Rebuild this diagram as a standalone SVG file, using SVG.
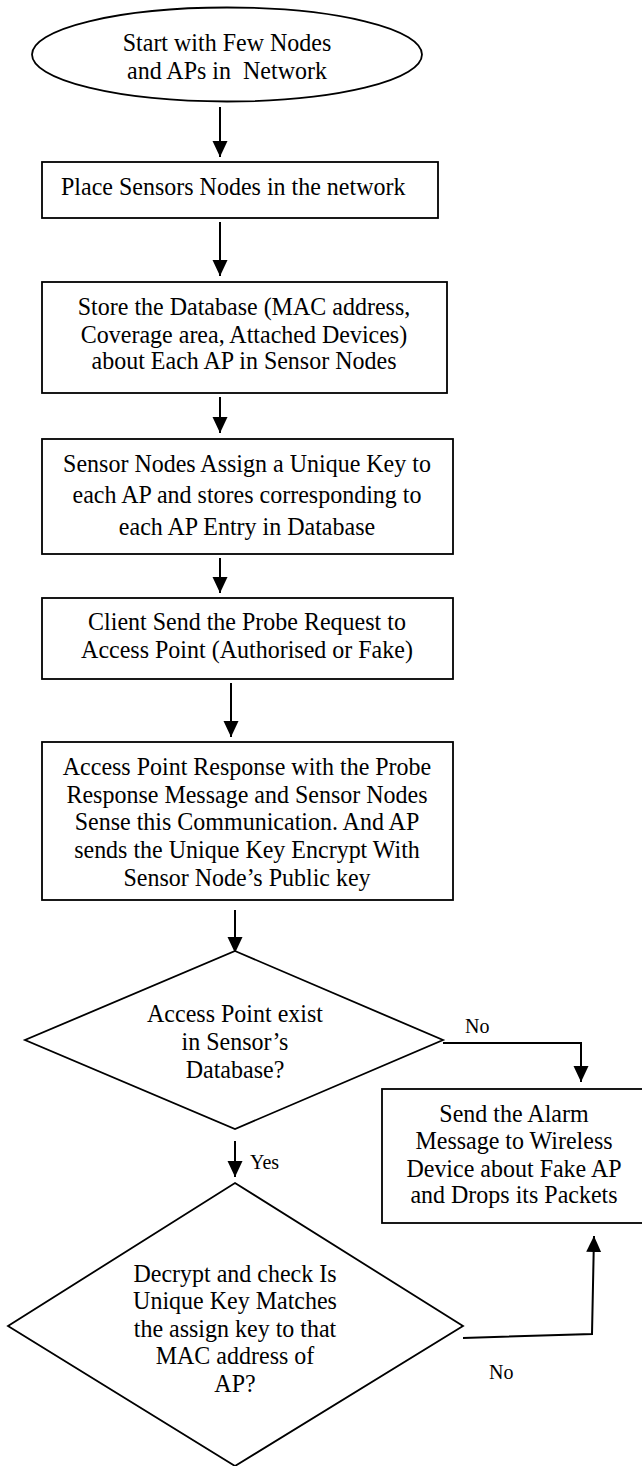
<svg xmlns="http://www.w3.org/2000/svg" width="642" height="1466" viewBox="0 0 642 1466">
<style>
.n{fill:#fff;stroke:#000;stroke-width:1.8}
.t{font-family:"Liberation Serif","Times New Roman",serif;font-size:24px;fill:#000;text-anchor:middle;white-space:pre}
.l{font-family:"Liberation Serif","Times New Roman",serif;font-size:20px;fill:#000;text-anchor:start}
.c{fill:none;stroke:#000;stroke-width:2;marker-end:url(#ah)}
</style>
<defs>
<marker id="ah" markerUnits="userSpaceOnUse" markerWidth="17" markerHeight="16" refX="16" refY="7.5" orient="auto">
<path d="M0,0 L16,7.5 L0,15 z" fill="#000"/>
</marker>
</defs>
<rect width="642" height="1466" fill="#fff"/>
<g id="connectors">
<line class="c" x1="220" y1="107" x2="220" y2="157"/>
<line class="c" x1="220" y1="222" x2="220" y2="276"/>
<line class="c" x1="220" y1="397" x2="220" y2="433"/>
<line class="c" x1="220" y1="558" x2="220" y2="593"/>
<line class="c" x1="231" y1="683" x2="231" y2="737"/>
<line class="c" x1="235" y1="910" x2="235" y2="953"/>
<polyline class="c" points="443,1043 581,1043 581,1082"/>
<line class="c" x1="235" y1="1141" x2="235" y2="1177"/>
<polyline class="c" points="463,1338 592,1334 594,1236"/>
<text class="l" transform="translate(465,1033) scale(1,1.08)">No</text>
<text class="l" transform="translate(250,1169) scale(1,1.08)">Yes</text>
<text class="l" transform="translate(489,1379) scale(1,1.08)">No</text>
</g>
<g id="start">
<ellipse class="n" cx="227" cy="54.5" rx="195" ry="47"/>
<text class="t" transform="translate(227,51) scale(1,1.08)">Start with Few Nodes</text>
<text class="t" transform="translate(227,79) scale(1,1.08)">and APs in  Network</text>
</g>
<g id="place">
<rect class="n" x="42" y="162" width="396" height="56"/>
<text class="t" transform="translate(61,195) scale(1,1.08)" style="text-anchor:start">Place Sensors Nodes in the network</text>
</g>
<g id="store">
<rect class="n" x="42" y="282" width="405" height="111"/>
<text class="t" transform="translate(244,315) scale(1,1.08)">Store the Database (MAC address,</text>
<text class="t" transform="translate(244,343) scale(1,1.08)">Coverage area, Attached Devices)</text>
<text class="t" transform="translate(244,369) scale(1,1.08)">about Each AP in Sensor Nodes</text>
</g>
<g id="assign">
<rect class="n" x="42" y="439" width="411" height="115"/>
<text class="t" transform="translate(247,472) scale(1,1.08)">Sensor Nodes Assign a Unique Key to</text>
<text class="t" transform="translate(247,503) scale(1,1.08)">each AP and stores corresponding to</text>
<text class="t" transform="translate(247,535) scale(1,1.08)">each AP Entry in Database</text>
</g>
<g id="probe">
<rect class="n" x="42" y="598" width="411" height="81"/>
<text class="t" transform="translate(247,630) scale(1,1.08)">Client Send the Probe Request to</text>
<text class="t" transform="translate(247,658) scale(1,1.08)">Access Point (Authorised or Fake)</text>
</g>
<g id="response">
<rect class="n" x="42" y="742" width="411" height="158"/>
<text class="t" transform="translate(247,775) scale(1,1.08)">Access Point Response with the Probe</text>
<text class="t" transform="translate(247,803) scale(1,1.08)">Response Message and Sensor Nodes</text>
<text class="t" transform="translate(247,830) scale(1,1.08)">Sense this Communication. And AP</text>
<text class="t" transform="translate(247,858) scale(1,1.08)">sends the Unique Key Encrypt With</text>
<text class="t" transform="translate(247,886) scale(1,1.08)">Sensor Node’s Public key</text>
</g>
<g id="exist">
<polygon class="n" points="235,951 443,1040 235,1129 25,1040"/>
<text class="t" transform="translate(235,1022) scale(1,1.08)">Access Point exist</text>
<text class="t" transform="translate(235,1050) scale(1,1.08)">in Sensor’s</text>
<text class="t" transform="translate(235,1078) scale(1,1.08)">Database?</text>
</g>
<g id="alarm">
<rect class="n" x="382" y="1089" width="270" height="134"/>
<text class="t" transform="translate(514,1122) scale(1,1.08)">Send the Alarm</text>
<text class="t" transform="translate(514,1149) scale(1,1.08)">Message to Wireless</text>
<text class="t" transform="translate(514,1177) scale(1,1.08)">Device about Fake AP</text>
<text class="t" transform="translate(514,1203) scale(1,1.08)">and Drops its Packets</text>
</g>
<g id="decrypt">
<polygon class="n" points="235,1183 463,1326 235,1466 8,1326"/>
<text class="t" transform="translate(235,1282) scale(1,1.08)">Decrypt and check Is</text>
<text class="t" transform="translate(235,1309) scale(1,1.08)">Unique Key Matches</text>
<text class="t" transform="translate(235,1337) scale(1,1.08)">the assign key to that</text>
<text class="t" transform="translate(235,1364) scale(1,1.08)">MAC address of</text>
<text class="t" transform="translate(235,1392) scale(1,1.08)">AP?</text>
</g>
</svg>
